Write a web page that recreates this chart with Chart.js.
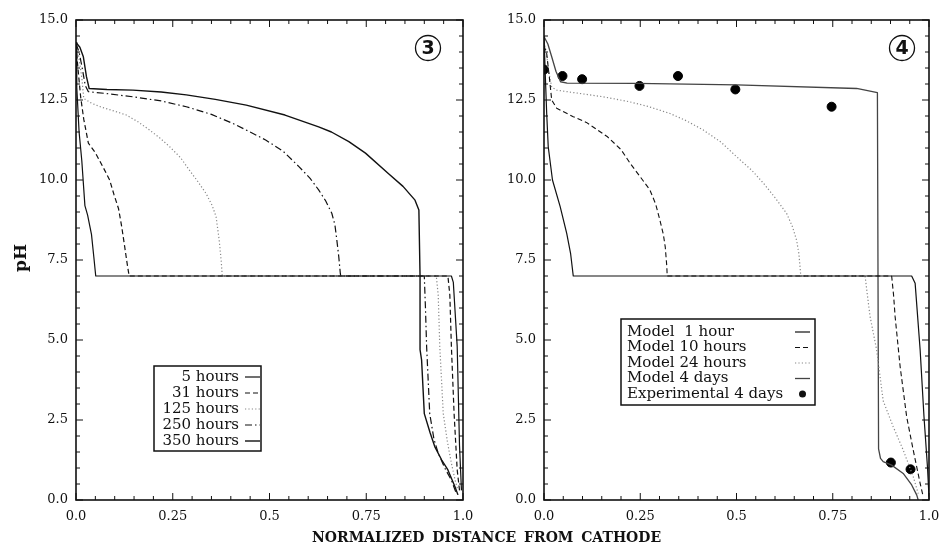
<!DOCTYPE html>
<html><head><meta charset="utf-8">
<script src="https://cdn.jsdelivr.net/npm/chart.js@4.4.1/dist/chart.umd.min.js"></script>
<style>
html,body{margin:0;padding:0;background:#fff;}
body{width:941px;height:550px;position:relative;overflow:hidden;}
#c3{position:absolute;left:0;top:0;}
#c4{position:absolute;left:470px;top:0;}
#ylab{position:absolute;left:20px;top:258px;transform:translate(-50%,-50%) rotate(-90deg);font:bold 17px 'DejaVu Serif',serif;color:#111;white-space:nowrap;}
#xlab{position:absolute;left:312px;top:529px;font:bold 14px 'DejaVu Serif',serif;color:#111;white-space:pre;word-spacing:3px;}
</style></head><body>
<canvas id="c3" width="500" height="540"></canvas>
<canvas id="c4" width="510" height="540"></canvas>
<div id="ylab">pH</div>
<div id="xlab">NORMALIZED DISTANCE FROM CATHODE</div>
<script>
// ---------- axis ticks ----------
const xMajor = [0, 0.25, 0.5, 0.75, 1.0];
const xTickLabels = ['0.0', '0.25', '0.5', '0.75', '1.0'];
const yMajor = [0, 2.5, 5, 7.5, 10, 12.5, 15];
const yTickLabels = ['0.0', '2.5', '5.0', '7.5', '10.0', '12.5', '15.0'];

// ---------- Figure 3 (left panel) ----------
const labels3 = ['5 hours', '31 hours', '125 hours', '250 hours', '350 hours'];
const x5h = [0, 0.002, 0.008, 0.015, 0.023, 0.03, 0.04, 0.046, 0.051, 0.97, 0.975, 0.98, 0.985, 0.991, 0.996];
const ph5h = [14.3, 12.9, 11.5, 10.6, 9.2, 8.9, 8.3, 7.6, 7.0, 7.0, 6.8, 5.8, 4.8, 1.7, 0.3];
const x31h = [0, 0.005, 0.012, 0.02, 0.032, 0.05, 0.07, 0.087, 0.098, 0.11, 0.118, 0.126, 0.132, 0.136, 0.137, 0.961, 0.966, 0.97, 0.977, 0.985, 0.991];
const ph31h = [14.2, 13.5, 12.6, 11.9, 11.15, 10.85, 10.4, 10.0, 9.55, 9.1, 8.55, 7.9, 7.4, 7.1, 7.0, 7.0, 6.4, 4.8, 2.7, 0.94, 0.3];
const x125h = [0, 0.006, 0.015, 0.02, 0.04, 0.065, 0.1, 0.13, 0.16, 0.19, 0.215, 0.242, 0.27, 0.293, 0.315, 0.336, 0.352, 0.362, 0.37, 0.375, 0.378, 0.931, 0.936, 0.94, 0.949, 0.96, 0.97, 0.98, 0.987];
const ph125h = [14.2, 13.95, 13.2, 12.55, 12.4, 12.28, 12.15, 12.03, 11.82, 11.56, 11.33, 11.04, 10.7, 10.31, 9.95, 9.58, 9.2, 8.85, 8.12, 7.5, 7.0, 7.0, 6.4, 4.8, 2.7, 1.8, 1.15, 0.6, 0.3];
const x250h = [0, 0.008, 0.016, 0.024, 0.032, 0.08, 0.147, 0.22, 0.285, 0.35, 0.405, 0.45, 0.49, 0.535, 0.576, 0.605, 0.627, 0.645, 0.661, 0.669, 0.674, 0.679, 0.683, 0.684, 0.9, 0.903, 0.906, 0.914, 0.925, 0.936, 0.955, 0.97, 0.983];
const ph250h = [14.25, 14.0, 13.5, 12.95, 12.76, 12.7, 12.6, 12.47, 12.29, 12.05, 11.77, 11.5, 11.25, 10.9, 10.42, 10.05, 9.69, 9.35, 8.96, 8.6, 8.12, 7.6, 7.08, 7.0, 7.0, 6.0, 4.8, 2.7, 1.9, 1.46, 0.95, 0.62, 0.2];
const x350h = [0, 0.01, 0.019, 0.027, 0.034, 0.08, 0.147, 0.22, 0.285, 0.36, 0.44, 0.54, 0.627, 0.66, 0.705, 0.748, 0.807, 0.845, 0.876, 0.886, 0.889, 0.889, 0.893, 0.9, 0.915, 0.927, 0.945, 0.961, 0.979, 0.987];
const ph350h = [14.3, 14.15, 13.85, 13.23, 12.86, 12.83, 12.81, 12.75, 12.66, 12.52, 12.34, 12.03, 11.66, 11.5, 11.2, 10.84, 10.2, 9.8, 9.37, 9.06, 7.0, 4.7, 4.375, 2.7, 2.1, 1.67, 1.25, 0.94, 0.42, 0.16];

// ---------- Figure 4 (right panel) ----------
const labels4 = ['Model  1 hour', 'Model 10 hours', 'Model 24 hours', 'Model 4 days', 'Experimental 4 days'];
const x1h = [0, 0.003, 0.007, 0.011, 0.022, 0.042, 0.059, 0.069, 0.076, 0.955, 0.964, 0.977, 0.987, 0.996, 1.0];
const ph1h = [14.5, 13.4, 12.08, 11.04, 10.0, 9.17, 8.33, 7.71, 7.0, 7.0, 6.77, 4.69, 2.6, 1.04, 0.1];
const x10h = [0, 0.007, 0.014, 0.02, 0.033, 0.076, 0.11, 0.165, 0.2, 0.225, 0.25, 0.275, 0.29, 0.301, 0.31, 0.315, 0.319, 0.32, 0.903, 0.908, 0.912, 0.925, 0.942, 0.959, 0.977, 0.985];
const ph10h = [14.2, 13.95, 13.2, 12.5, 12.24, 11.98, 11.8, 11.35, 10.95, 10.5, 10.1, 9.69, 9.25, 8.75, 8.3, 7.9, 7.3, 7.0, 7.0, 6.4, 5.73, 4.17, 2.6, 1.56, 0.52, 0.1];
const x24h = [0, 0.006, 0.012, 0.02, 0.033, 0.06, 0.154, 0.22, 0.27, 0.327, 0.37, 0.414, 0.46, 0.5, 0.54, 0.57, 0.6, 0.63, 0.645, 0.656, 0.662, 0.665, 0.667, 0.834, 0.84, 0.847, 0.864, 0.881, 0.907, 0.933, 0.959, 0.972];
const ph24h = [14.3, 14.0, 13.4, 12.9, 12.81, 12.76, 12.6, 12.45, 12.3, 12.08, 11.85, 11.56, 11.18, 10.73, 10.3, 9.9, 9.45, 8.96, 8.55, 8.12, 7.7, 7.29, 7.0, 7.0, 6.4, 5.73, 4.69, 3.1, 2.29, 1.56, 0.73, 0.2];
const x4d = [0, 0.01, 0.02, 0.031, 0.043, 0.06, 0.24, 0.5, 0.812, 0.866, 0.869, 0.874, 0.881, 0.903, 0.933, 0.955, 0.968, 0.972];
const ph4d = [14.48, 14.25, 13.85, 13.4, 13.07, 13.03, 13.02, 12.97, 12.86, 12.73, 1.6, 1.3, 1.2, 1.09, 0.83, 0.47, 0.16, 0.0];
const xExp = [0, 0.048, 0.099, 0.248, 0.348, 0.497, 0.747, 0.901, 0.952];
const phExp = [13.45, 13.25, 13.15, 12.94, 13.25, 12.83, 12.29, 1.17, 0.96];

// ---------- helpers ----------
const pts = (xs, ys) => xs.map((x, i) => ({x: x, y: ys[i]}));
const FONT = "'DejaVu Serif', serif";
Chart.defaults.font.family = FONT;
Chart.defaults.font.size = 13;
Chart.defaults.color = '#111';

function lineDs(label, xs, ys, color, width, dash) {
  return {label: label, data: pts(xs, ys), borderColor: color, backgroundColor: color,
    borderWidth: width, borderDash: dash, pointRadius: 0, tension: 0, fill: false,
    borderJoinStyle: 'round'};
}

const framePlugin = {
  id: 'frame',
  afterDraw(chart, args, o) {
    const ctx = chart.ctx, a = chart.chartArea, xs = chart.scales.x, ys = chart.scales.y;
    ctx.save();
    ctx.strokeStyle = '#111';
    ctx.lineWidth = 1;
    for (let i = 0; i <= 20; i++) {
      const p = xs.getPixelForValue(i * 0.05), L = (i % 5 === 0) ? 7 : 4;
      ctx.beginPath();
      ctx.moveTo(p, a.bottom); ctx.lineTo(p, a.bottom - L);
      ctx.moveTo(p, a.top); ctx.lineTo(p, a.top + L);
      ctx.stroke();
    }
    for (let i = 0; i <= 30; i++) {
      const p = ys.getPixelForValue(i * 0.5), L = (i % 5 === 0) ? 7 : 4;
      ctx.beginPath();
      ctx.moveTo(a.left, p); ctx.lineTo(a.left + L, p);
      ctx.moveTo(a.right, p); ctx.lineTo(a.right - L, p);
      ctx.stroke();
    }
    ctx.lineWidth = 1.6;
    ctx.strokeRect(a.left, a.top, a.right - a.left, a.bottom - a.top);

    // panel number in circle
    ctx.lineWidth = 1.3;
    ctx.beginPath();
    ctx.arc(o.numX, o.numY, 12.5, 0, Math.PI * 2);
    ctx.stroke();
    ctx.fillStyle = '#111';
    ctx.font = "bold 19px 'DejaVu Sans', sans-serif";
    ctx.textAlign = 'center';
    ctx.textBaseline = 'middle';
    ctx.fillText(o.num, o.numX, o.numY + 1);

    // legend box
    const L = o.legend;
    ctx.lineWidth = 1.5;
    ctx.strokeRect(L.x0, L.y0, L.x1 - L.x0, L.y1 - L.y0);
    ctx.font = "15px " + FONT;
    ctx.textBaseline = 'middle';
    chart.data.datasets.forEach((ds, i) => {
      const yy = L.rowY0 + i * L.rowDy;
      ctx.textAlign = L.align;
      ctx.fillStyle = '#111';
      ctx.fillText(ds.label, L.textX, yy);
      if (ds.showLine === false) {
        ctx.beginPath();
        ctx.arc((L.s0 + L.s1) / 2, yy, 3.5, 0, Math.PI * 2);
        ctx.fill();
      } else {
        ctx.save();
        ctx.strokeStyle = ds.borderColor;
        ctx.lineWidth = ds.borderWidth;
        ctx.setLineDash(ds.borderDash || []);
        ctx.beginPath();
        ctx.moveTo(L.s0, yy); ctx.lineTo(L.s1, yy);
        ctx.stroke();
        ctx.restore();
      }
    });
    ctx.restore();
  }
};

function makeChart(id, datasets, yWidth, padRight, frameOpts) {
  return new Chart(document.getElementById(id), {
    type: 'line',
    data: {datasets: datasets},
    plugins: [framePlugin],
    options: {
      responsive: false, animation: false, devicePixelRatio: 1,
      layout: {padding: {left: 0, top: 20, right: padRight, bottom: 10}},
      plugins: {legend: {display: false}, tooltip: {enabled: false}, frame: frameOpts},
      scales: {
        x: {type: 'linear', min: 0, max: 1,
          grid: {display: false, drawTicks: false}, border: {display: false},
          afterBuildTicks: s => { s.ticks = xMajor.map(v => ({value: v})); },
          afterFit: s => { s.height = 30; s.paddingLeft = 0; s.paddingRight = 0; },
          ticks: {padding: 9, maxRotation: 0, autoSkip: false, color: '#111',
            font: {size: 13, family: FONT},
            callback: v => xTickLabels[xMajor.indexOf(v)]}},
        y: {type: 'linear', min: 0, max: 15,
          grid: {display: false, drawTicks: false}, border: {display: false},
          afterBuildTicks: s => { s.ticks = yMajor.map(v => ({value: v})); },
          afterFit: s => { s.width = yWidth; s.paddingTop = 0; s.paddingBottom = 0; },
          ticks: {padding: 8, autoSkip: false, color: '#111',
            font: {size: 13, family: FONT},
            callback: v => yTickLabels[yMajor.indexOf(v)]}}
      }
    }
  });
}

makeChart('c3', [
  lineDs(labels3[0], x5h, ph5h, '#111', 1.2, []),
  lineDs(labels3[1], x31h, ph31h, '#111', 1.2, [5, 3]),
  lineDs(labels3[2], x125h, ph125h, '#888', 1.2, [1.2, 2.2]),
  lineDs(labels3[3], x250h, ph250h, '#111', 1.2, [7, 3, 1.5, 3]),
  lineDs(labels3[4], x350h, ph350h, '#111', 1.4, [])
], 76, 37, {
  num: '3', numX: 428, numY: 48,
  legend: {x0: 154, y0: 366, x1: 261, y1: 451, align: 'right', textX: 239,
    rowY0: 377, rowDy: 16, s0: 245, s1: 260}
});

makeChart('c4', [
  lineDs(labels4[0], x1h, ph1h, '#111', 1.2, []),
  lineDs(labels4[1], x10h, ph10h, '#111', 1.1, [5, 3]),
  lineDs(labels4[2], x24h, ph24h, '#888', 1.2, [1.2, 2.2]),
  lineDs(labels4[3], x4d, ph4d, '#444', 1.3, []),
  {label: labels4[4], data: pts(xExp, phExp), showLine: false, pointRadius: 4.5,
    pointBackgroundColor: '#000', pointBorderColor: '#000', backgroundColor: '#000', borderColor: '#000'}
], 74, 51, {
  num: '4', numX: 432, numY: 48,
  legend: {x0: 151, y0: 319, x1: 345, y1: 405, align: 'left', textX: 157,
    rowY0: 332, rowDy: 15.5, s0: 325, s1: 340}
});
</script>
</body></html>
